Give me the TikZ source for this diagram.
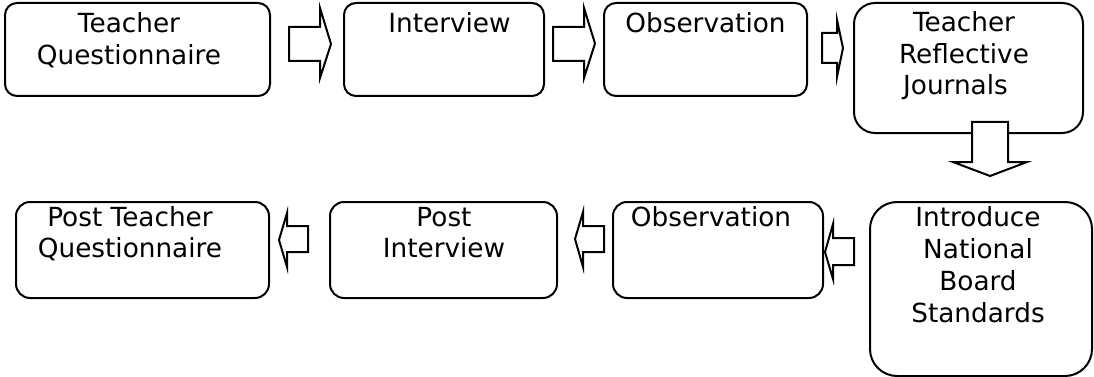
\documentclass[tikz,border=0pt]{standalone}
\usepackage{fontspec}
\setmainfont{DejaVu Sans}
\tikzset{
  box/.style={draw=black, line width=2pt, fill=white, inner sep=0pt, outer sep=0pt},
  txt/.style={inner sep=0pt, outer sep=0pt, align=center, anchor=north,
    font=\fontsize{26.3pt}{32pt}\selectfont},
  blockarrow/.style={draw=black, line width=2pt, fill=white, line join=miter},
}
\begin{document}
\begin{tikzpicture}[x=1pt,y=-1pt]
\useasboundingbox (0,0) rectangle (1094,377);
% top row boxes
\node[box, rounded corners=12pt, minimum width=265pt, minimum height=93pt] (b1) at (137.5,49.5) {};
\node[box, rounded corners=12pt, minimum width=200pt, minimum height=93pt] (b2) at (444,49.5) {};
\node[box, rounded corners=12pt, minimum width=203pt, minimum height=93pt] (b3) at (705.5,49.5) {};
\node[box, rounded corners=21pt, minimum width=229pt, minimum height=130pt] (b4) at (968.5,68) {};
% bottom row boxes
\node[box, rounded corners=27pt, minimum width=222pt, minimum height=174pt] (b5) at (981,289) {};
\node[box, rounded corners=14pt, minimum width=210pt, minimum height=96pt] (b6) at (718,250) {};
\node[box, rounded corners=14pt, minimum width=227pt, minimum height=96pt] (b7) at (443.5,250) {};
\node[box, rounded corners=14pt, minimum width=253pt, minimum height=96pt] (b8) at (142.5,250) {};
% texts
\node[txt] (t1) at (129,13) {Teacher\\Questionnaire};
\node[txt] (t2) at (449.5,13) {Interview};
\node[txt] (t3) at (705.5,13) {Observation};
\node[txt, font=\fontsize{26.3pt}{31.5pt}\selectfont] (t4) at (964,12) {Teacher\\Reflective\\Journals\hspace*{17pt}};
\node[txt] (t5) at (978,207) {Introduce\\National\hspace*{9pt}\\Board\hspace*{21pt}\\Standards};
\node[txt] (t6) at (711,207) {Observation};
\node[txt, font=\fontsize{26.3pt}{31pt}\selectfont] (t7) at (444,207) {Post\\Interview};
\node[txt, font=\fontsize{26.3pt}{31pt}\selectfont] (t8) at (130,207) {Post Teacher\\Questionnaire};
% block arrows
\draw[blockarrow] (289,27) -- (320,27) -- (320,8) -- (331,44) -- (320,78) -- (320,61) -- (289,61) -- cycle;
\draw[blockarrow] (553,27) -- (584,27) -- (584,8) -- (595,43.5) -- (584,78) -- (584,61) -- (553,61) -- cycle;
\draw[blockarrow] (822,33) -- (837,33) -- (837,20) -- (843,48) -- (837,77) -- (837,63) -- (822,63) -- cycle;
\draw[blockarrow] (972,122) -- (1008,122) -- (1008,162) -- (1027,162) -- (990,176) -- (953,162) -- (972,162) -- cycle;
\draw[blockarrow] (854,238) -- (833,238) -- (833,224) -- (825,252) -- (833,279) -- (833,265) -- (854,265) -- cycle;
\draw[blockarrow] (604,226) -- (583,226) -- (583,212) -- (575,239) -- (583,267) -- (583,252) -- (604,252) -- cycle;
\draw[blockarrow] (308,226) -- (287,226) -- (287,213) -- (279,240) -- (287,267) -- (287,252) -- (308,252) -- cycle;
\end{tikzpicture}
\end{document}
